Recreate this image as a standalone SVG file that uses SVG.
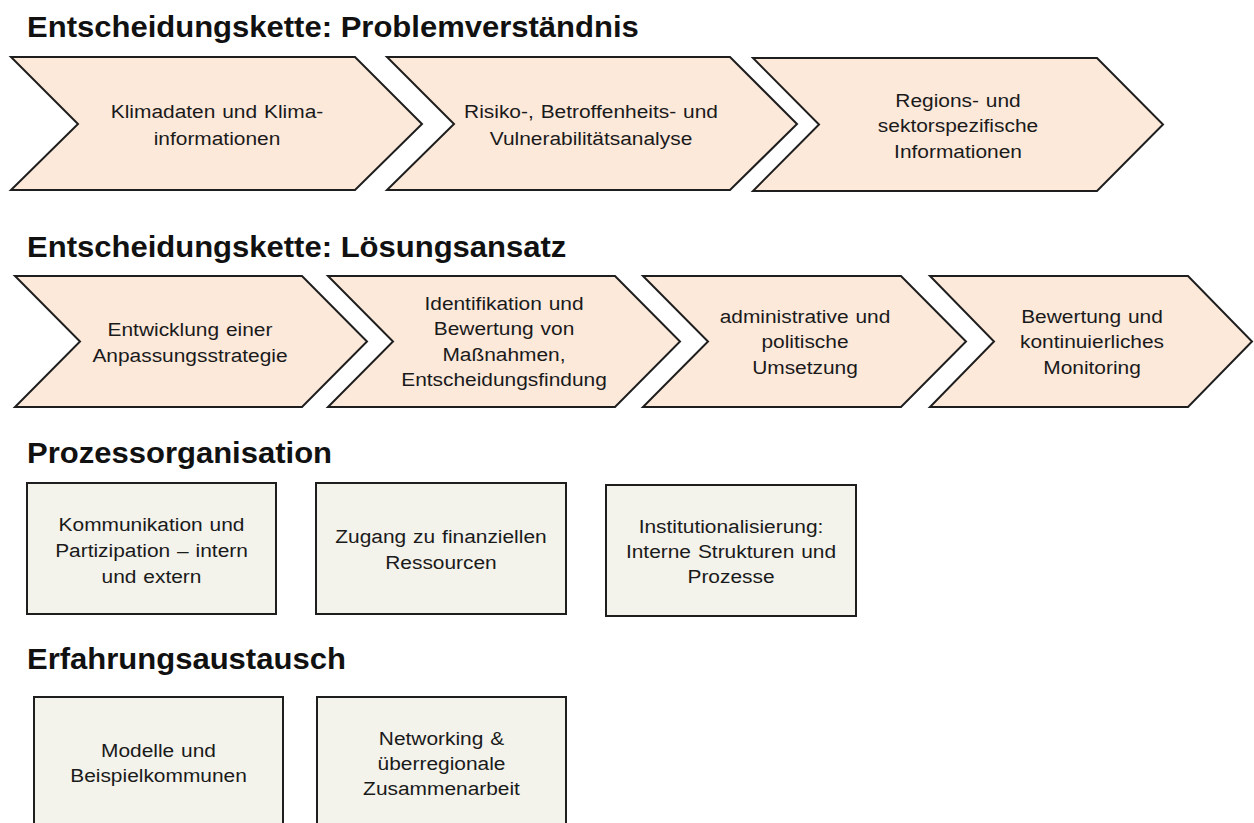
<svg xmlns="http://www.w3.org/2000/svg" width="1254" height="823" viewBox="0 0 1254 823">
<style>
.title{font-family:"Liberation Sans",Arial,sans-serif;font-weight:bold;font-size:29px;fill:#111}
.chev{fill:#FCE9DA;stroke:#1e1e1e;stroke-width:2;stroke-linejoin:miter}
.box{fill:#F3F2EB;stroke:#1e1e1e;stroke-width:2}
.lbl{font-family:"Liberation Sans",Arial,sans-serif;font-size:19px;fill:#1a1a1a;text-anchor:middle;word-spacing:1px}
</style>
<rect width="1254" height="823" fill="#fff"/>
<g id="titles">
<text class="title" transform="translate(27,37) scale(1.07,1)" x="0" y="0">Entscheidungskette: Problemverständnis</text>
<text class="title" transform="translate(27,257) scale(1.07,1)" x="0" y="0">Entscheidungskette: Lösungsansatz</text>
<text class="title" transform="translate(27,463) scale(1.07,1)" x="0" y="0">Prozessorganisation</text>
<text class="title" transform="translate(27,669) scale(1.07,1)" x="0" y="0">Erfahrungsaustausch</text>
</g>
<g id="connectors"></g>
<g id="p1">
<polygon class="chev" points="11,57 355,57 422,124 355,190 11,190 78,124"/>
<text class="lbl" transform="translate(217,0) scale(1.1,1)"><tspan x="0" y="118">Klimadaten und Klima-</tspan><tspan x="0" y="145">informationen</tspan></text>
</g>
<g id="p2">
<polygon class="chev" points="387,57 730,57 797,124 730,190 387,190 454,124"/>
<text class="lbl" transform="translate(591,0) scale(1.1,1)"><tspan x="0" y="118">Risiko-, Betroffenheits- und</tspan><tspan x="0" y="145">Vulnerabilitätsanalyse</tspan></text>
</g>
<g id="p3">
<polygon class="chev" points="753,58 1097,58 1163,124.5 1097,191 753,191 819,124.5"/>
<text class="lbl" transform="translate(958,0) scale(1.1,1)"><tspan x="0" y="107">Regions- und</tspan><tspan x="0" y="132.5">sektorspezifische</tspan><tspan x="0" y="158">Informationen</tspan></text>
</g>
<g id="l1">
<polygon class="chev" points="15,276 302,276 367,341.5 302,407 15,407 80,341.5"/>
<text class="lbl" transform="translate(190,0) scale(1.1,1)"><tspan x="0" y="336">Entwicklung einer</tspan><tspan x="0" y="362">Anpassungsstrategie</tspan></text>
</g>
<g id="l2">
<polygon class="chev" points="328,276 615,276 680,341.5 615,407 328,407 393,341.5"/>
<text class="lbl" transform="translate(504,0) scale(1.1,1)"><tspan x="0" y="310">Identifikation und</tspan><tspan x="0" y="335.5">Bewertung von</tspan><tspan x="0" y="361">Maßnahmen,</tspan><tspan x="0" y="386.5">Entscheidungsfindung</tspan></text>
</g>
<g id="l3">
<polygon class="chev" points="643,276 901,276 966,341.5 901,407 643,407 708,341.5"/>
<text class="lbl" transform="translate(805,0) scale(1.1,1)"><tspan x="0" y="323">administrative und</tspan><tspan x="0" y="348.5">politische</tspan><tspan x="0" y="374">Umsetzung</tspan></text>
</g>
<g id="l4">
<polygon class="chev" points="930,276 1188,276 1252,341.5 1188,407 930,407 994,341.5"/>
<text class="lbl" transform="translate(1092,0) scale(1.1,1)"><tspan x="0" y="323">Bewertung und</tspan><tspan x="0" y="348.5">kontinuierliches</tspan><tspan x="0" y="374">Monitoring</tspan></text>
</g>
<g id="o1">
<rect class="box" x="27" y="483" width="249" height="131"/>
<text class="lbl" transform="translate(151.5,0) scale(1.1,1)"><tspan x="0" y="531">Kommunikation und</tspan><tspan x="0" y="557">Partizipation – intern</tspan><tspan x="0" y="583">und extern</tspan></text>
</g>
<g id="o2">
<rect class="box" x="316" y="483" width="250" height="131"/>
<text class="lbl" transform="translate(441,0) scale(1.1,1)"><tspan x="0" y="543">Zugang zu finanziellen</tspan><tspan x="0" y="569">Ressourcen</tspan></text>
</g>
<g id="o3">
<rect class="box" x="606" y="485" width="250" height="131"/>
<text class="lbl" transform="translate(731,0) scale(1.1,1)"><tspan x="0" y="533">Institutionalisierung:</tspan><tspan x="0" y="558">Interne Strukturen und</tspan><tspan x="0" y="583">Prozesse</tspan></text>
</g>
<g id="e1">
<rect class="box" x="34" y="697" width="249" height="140"/>
<text class="lbl" transform="translate(158.5,0) scale(1.1,1)"><tspan x="0" y="757">Modelle und</tspan><tspan x="0" y="782">Beispielkommunen</tspan></text>
</g>
<g id="e2">
<rect class="box" x="317" y="697" width="249" height="140"/>
<text class="lbl" transform="translate(441.5,0) scale(1.1,1)"><tspan x="0" y="745">Networking &amp;</tspan><tspan x="0" y="770">überregionale</tspan><tspan x="0" y="795">Zusammenarbeit</tspan></text>
</g>
</svg>
